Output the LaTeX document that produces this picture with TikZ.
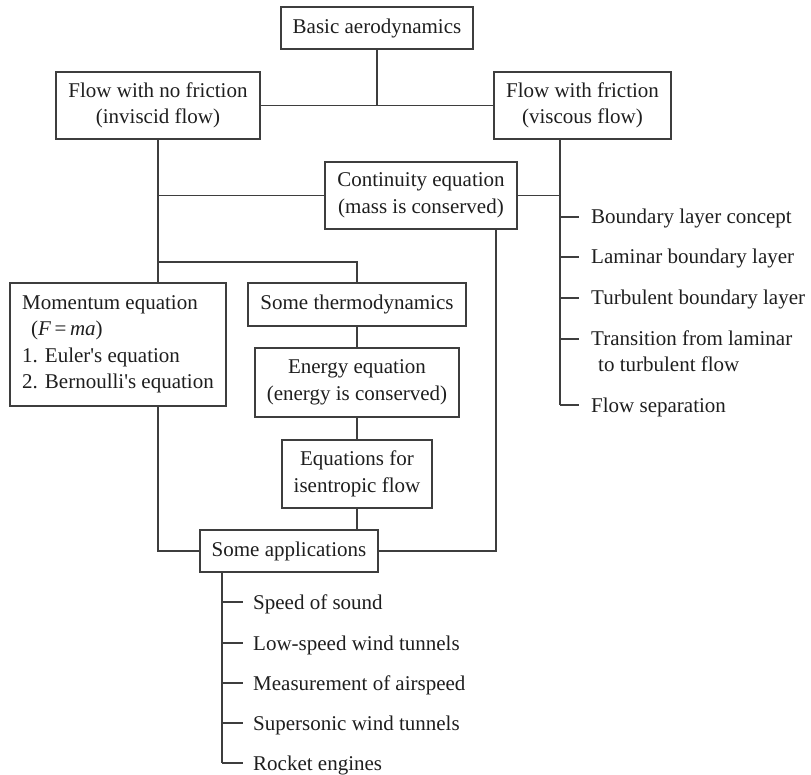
\documentclass[tikz,border=0pt]{standalone}
\usepackage{fontspec}
\setmainfont{Liberation Serif}
\definecolor{linec}{RGB}{62,62,62}
\definecolor{textc}{RGB}{30,30,30}
\begin{document}
\begin{tikzpicture}[x=1pt,y=-1pt]
\tikzset{
  box/.style={draw=linec, line width=1.1pt, inner sep=0pt, align=center, text=textc,
              font=\fontsize{21}{26.5}\selectfont},
  item/.style={anchor=base west, inner sep=0pt, text=textc, font=\fontsize{21}{26.5}\selectfont},
  conn/.style={draw=linec, line width=1.1pt}
}
\useasboundingbox (0,0) rectangle (811,775);

\node[box, minimum width=192pt, minimum height=42pt] (basic) at (377,28) {Basic aerodynamics};
\node[box, minimum width=204pt, minimum height=67pt] (nofric) at (158,105.5) {Flow with no friction\\(inviscid flow)};
\node[box, minimum width=177pt, minimum height=67pt] (fric) at (582.5,105.5) {Flow with friction\\(viscous flow)};
\node[box, minimum width=192pt, minimum height=67pt] (cont) at (421,195.5) {Continuity equation\\(mass is conserved)};
\node[box, minimum width=216pt, minimum height=123pt, align=left] (mom) at (118,344.5)
  {Momentum equation\\\hspace*{9pt}(\textit{F}\,=\,\textit{ma})\\1. Euler\textquotesingle s equation\\2. Bernoulli\textquotesingle s equation};
\node[box, minimum width=218pt, minimum height=43pt] (thermo) at (357,304.5) {Some thermodynamics};
\node[box, minimum width=204pt, minimum height=69pt] (energy) at (357,382.5) {Energy equation\\(energy is conserved)};
\node[box, minimum width=150pt, minimum height=68pt] (isen) at (357,474) {Equations for\\isentropic flow};
\node[box, minimum width=178pt, minimum height=42pt] (apps) at (289,551) {Some applications};

\coordinate (ftop) at (560,139);
\coordinate (fbot) at (560,405);
\coordinate (cbot) at (496,229);
\coordinate (j2) at (158,262);
\coordinate (atop) at (222,572);
\coordinate (abot) at (222,763);

\draw[conn] (nofric.east) -- (fric.west);
\draw[conn] (basic.south) -- (basic.south |- nofric.east);
\draw[conn] (nofric.south) -- (nofric.south |- mom.north);
\draw[conn] (j2) -| (thermo.north);
\draw[conn] (cont.west) -- (cont.west -| nofric.south);
\draw[conn] (ftop) -- (fbot);
\draw[conn] (cont.east) -- (cont.east -| ftop);
\draw[conn] (cbot) |- (apps.east);
\draw[conn] (mom.south -| nofric.south) |- (apps.west);
\draw[conn] (thermo.south) -- (energy.north);
\draw[conn] (energy.south) -- (isen.north);
\draw[conn] (isen.south) -- (isen.south |- apps.north);
\draw[conn] (atop) -- (abot);

\foreach \y/\t/\n in {217/Boundary layer concept/fa, 257/Laminar boundary layer/fb,
    298/Turbulent boundary layer/fc, 339/Transition from laminar/fd, 405/Flow separation/fe} {
  \coordinate (\n t) at (579,\y);
  \draw[conn] (ftop |- \n t) -- (\n t);
  \node[item] (\n) at (591,\y+7) {\t};
}
\node[item] (fd2) at (598,372) {to turbulent flow};

\foreach \y/\t/\n in {602/Speed of sound/aa, 643/Low-speed wind tunnels/ab,
    683/Measurement of airspeed/ac, 723/Supersonic wind tunnels/ad, 763/Rocket engines/ae} {
  \coordinate (\n t) at (243,\y);
  \draw[conn] (atop |- \n t) -- (\n t);
  \node[item] (\n) at (253,\y+7) {\t};
}
\end{tikzpicture}
\end{document}
